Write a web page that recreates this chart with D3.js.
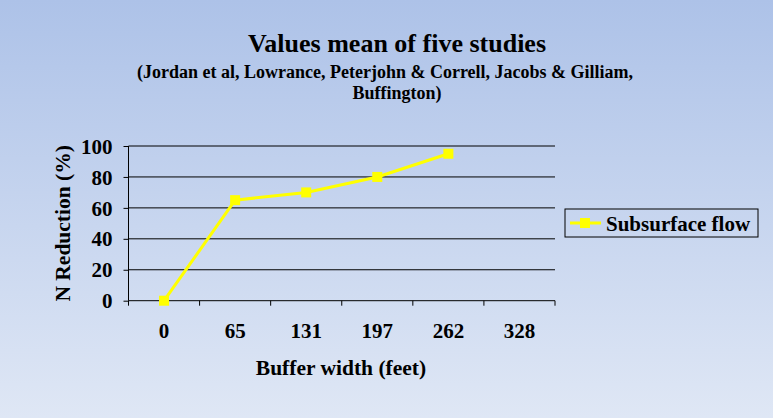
<!DOCTYPE html>
<html>
<head>
<meta charset="utf-8">
<script src="https://cdn.jsdelivr.net/npm/d3@7"></script>
<style>
  html, body { margin: 0; padding: 0; }
  body { width: 773px; height: 418px; overflow: hidden; }
  text { font-family: "Liberation Serif", "Times New Roman", serif; font-weight: bold; fill: #000; }
</style>
</head>
<body>
<div id="chart"></div>
<script>
// chart data
const categories = ['0', '65', '131', '197', '262', '328'];
const subsurface = [0, 65, 70, 80, 95, null];
const yTicks = [0, 20, 40, 60, 80, 100];
const seriesName = 'Subsurface flow';

const W = 773, H = 418;
const plot = { left: 128.5, right: 555, top: 146, bottom: 300.7 };
const axisFont = '21px';

const svg = d3.select('#chart').append('svg')
  .attr('width', W).attr('height', H);

// background gradient
const grad = svg.append('defs').append('linearGradient')
  .attr('id', 'bg').attr('x1', 0).attr('y1', 0).attr('x2', 0).attr('y2', 1);
grad.append('stop').attr('offset', '0%').attr('stop-color', '#adc2e8');
grad.append('stop').attr('offset', '100%').attr('stop-color', '#dfe7f5');
svg.append('rect').attr('width', W).attr('height', H).attr('fill', 'url(#bg)');

// titles
svg.append('text').attr('x', 397).attr('y', 52).attr('text-anchor', 'middle')
  .style('font-size', '26px').text('Values mean of five studies');
svg.append('text').attr('x', 385).attr('y', 78).attr('text-anchor', 'middle')
  .style('font-size', '18px')
  .text('(Jordan et al, Lowrance, Peterjohn & Correll, Jacobs & Gilliam,');
svg.append('text').attr('x', 397).attr('y', 98.5).attr('text-anchor', 'middle')
  .style('font-size', '18px').text('Buffington)');

const x = d3.scaleBand().domain(categories).range([plot.left, plot.right]);
const y = d3.scaleLinear().domain([0, 100]).range([plot.bottom, plot.top]);

// gridlines
svg.append('g').selectAll('line').data(yTicks.filter(d => d > 0)).enter()
  .append('line')
  .attr('x1', plot.left).attr('x2', plot.right)
  .attr('y1', d => y(d)).attr('y2', d => y(d))
  .attr('stroke', '#000').attr('stroke-width', 1);

// y axis
const yAxis = svg.append('g').attr('transform', `translate(${plot.left},0)`)
  .call(d3.axisLeft(y).tickValues(yTicks).tickSize(5).tickPadding(11));
yAxis.select('.domain').attr('d', `M0,${plot.top}V${plot.bottom}`);
yAxis.selectAll('text').style('font-size', axisFont).attr('dy', '0.34em')
  .style('font-family', '"Liberation Serif", serif');

// x axis
const xAxis = svg.append('g').attr('transform', `translate(0,${plot.bottom})`)
  .call(d3.axisBottom(x).tickSize(0).tickPadding(22));
xAxis.select('.domain').attr('d', `M${plot.left},0H${plot.right}`);
xAxis.selectAll('text').style('font-size', axisFont)
  .style('font-family', '"Liberation Serif", serif');
// tick marks between categories
const bounds = categories.map(c => x(c)).concat([plot.right]);
xAxis.selectAll('.sep').data(bounds).enter().append('line')
  .attr('x1', d => d).attr('x2', d => d).attr('y1', 0).attr('y2', 5)
  .attr('stroke', '#000');
svg.selectAll('.domain, .tick line').attr('stroke', '#000');

// axis titles
svg.append('text').attr('x', 341).attr('y', 375).attr('text-anchor', 'middle')
  .style('font-size', '21.5px').text('Buffer width (feet)');
svg.append('text').attr('transform', `translate(69.5,${(plot.top + plot.bottom) / 2}) rotate(-90)`)
  .attr('text-anchor', 'middle').style('font-size', '21.5px').text('N Reduction (%)');

// series
const pts = categories.map((c, i) => ({ c, v: subsurface[i] })).filter(d => d.v != null);
const cx = d => x(d.c) + x.bandwidth() / 2;
svg.append('path').datum(pts)
  .attr('d', d3.line().x(cx).y(d => y(d.v)))
  .attr('fill', 'none').attr('stroke', '#ffff00').attr('stroke-width', 3);
svg.append('g').selectAll('rect').data(pts).enter().append('rect')
  .attr('x', d => cx(d) - 5).attr('y', d => y(d.v) - 5)
  .attr('width', 10).attr('height', 10).attr('fill', '#ffff00');

// legend
const lg = svg.append('g').attr('transform', 'translate(565,209)');
lg.append('rect').attr('width', 193).attr('height', 28)
  .attr('fill', 'none').attr('stroke', '#000');
lg.append('line').attr('x1', 5).attr('x2', 36).attr('y1', 14).attr('y2', 14)
  .attr('stroke', '#ffff00').attr('stroke-width', 3);
lg.append('rect').attr('x', 15).attr('y', 9).attr('width', 10).attr('height', 10)
  .attr('fill', '#ffff00');
lg.append('text').attr('x', 41).attr('y', 21.5).style('font-size', '21px').text(seriesName);
</script>
</body>
</html>
